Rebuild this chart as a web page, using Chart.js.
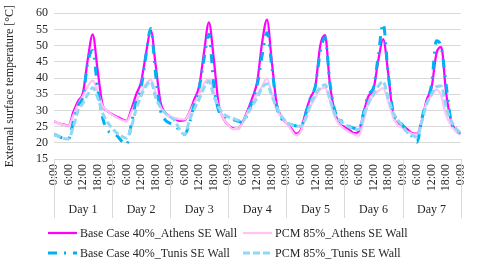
<!DOCTYPE html>
<html>
  <head>
    <title>External surface temperature - SE wall</title>
    <script src="https://cdn.jsdelivr.net/npm/chart.js@4.4.1/dist/chart.umd.min.js"></script>
    <style>
      html, body { margin: 0; padding: 0; background: #fff; }
      #wrap { width: 480px; height: 269px; }
    </style>
  </head>
  <body>
    <div id="wrap"><canvas id="tempChart"></canvas></div>

    <script>
      // eje x: horas (cada 2 h), etiquetas cada 6 h, días
      const hours = Array.from({ length: 85 }, (_, i) => i * 2);
      const hourLabels = ["0:00", "6:00", "12:00", "18:00"];
      const days = ["Day 1", "Day 2", "Day 3", "Day 4", "Day 5", "Day 6", "Day 7"];

      // series (°C)
      const baseAthens = [
        26.6, 26.0, 25.6, 25.4, 29.5, 33.0, 35.5, 46.0, 53.5, 42.5, 32.0, 29.8,
        28.8, 28.0, 27.3, 26.8, 30.5, 35.0, 38.8, 47.5, 54.7, 44.0, 32.5, 29.3,
        28.0, 27.3, 26.8, 27.0, 29.5, 33.5, 37.5, 48.0, 57.2, 46.0, 32.0, 27.5,
        25.5, 24.5, 24.3, 26.5, 30.0, 34.0, 39.0, 51.0, 58.0, 45.0, 32.0, 28.0,
        26.2, 24.5, 22.8, 24.0, 29.5, 34.0, 37.5, 50.0, 53.2, 38.0, 29.5, 25.8,
        25.0, 24.0, 23.0, 23.5, 29.5, 34.5, 36.5, 45.5, 52.0, 42.0, 29.0, 26.0,
        25.3, 24.2, 23.0, 22.8, 27.0, 33.3, 37.0, 47.5, 49.5, 35.5, 27.0, 23.8,
        22.6
      ];
      const pcmAthens = [
        26.7, 26.0, 25.5, 25.4, 28.5, 32.0, 34.5, 37.5, 39.2, 36.0, 31.5, 29.8,
        28.7, 27.8, 27.0, 26.6, 29.5, 32.8, 35.5, 38.2, 39.4, 35.5, 31.0, 29.0,
        28.0, 27.6, 27.3, 27.2, 29.3, 32.3, 35.0, 38.3, 39.8, 36.0, 31.0, 27.5,
        25.5, 24.2, 24.3, 26.3, 29.5, 32.5, 35.0, 37.5, 39.9, 35.0, 30.2, 28.0,
        26.2, 24.0, 22.3, 23.5, 28.0, 31.3, 34.0, 36.5, 37.0, 33.0, 28.0, 25.5,
        24.3, 23.3, 22.6, 22.2, 27.0, 32.5, 34.5, 36.0, 36.9, 33.0, 28.2, 25.5,
        24.6, 23.5, 22.8, 22.6, 27.0, 32.5, 34.5, 36.4, 34.5, 28.5, 25.5, 23.5,
        22.5
      ];
      const baseTunis = [
        22.6, 22.0, 21.3, 21.2, 26.5, 31.5, 34.3, 45.0, 48.5, 37.0, 28.0, 24.0,
        23.0, 22.2, 20.5, 19.5, 26.0, 33.0, 37.0, 47.0, 55.3, 41.0, 30.0, 27.0,
        26.0, 25.2, 23.8, 22.6, 26.2, 32.0, 37.0, 46.0, 53.5, 38.0, 30.0, 28.3,
        27.7, 27.2, 26.7, 26.3, 29.0, 33.0, 38.0, 47.0, 54.0, 43.5, 31.5, 27.5,
        26.2, 25.6, 25.2, 25.1, 29.0, 34.0, 37.5, 48.0, 52.5, 38.5, 30.0, 27.5,
        25.8, 25.0, 24.5, 24.2, 29.5, 35.0, 37.0, 47.0, 56.8, 42.0, 30.0, 27.0,
        25.5, 23.0, 22.0, 20.2, 27.5, 33.0, 38.0, 51.5, 49.5, 38.0, 27.0, 24.0,
        23.0
      ];
      const pcmTunis = [
        22.6, 22.0, 21.3, 21.2, 25.0, 30.0, 32.3, 35.0, 37.0, 34.0, 29.3, 26.5,
        24.5, 23.0, 22.0, 21.4, 25.0, 30.5, 34.5, 37.5, 38.9, 34.0, 31.0, 29.2,
        28.0, 26.8, 24.0, 22.5, 27.0, 30.5, 33.5, 37.0, 39.0, 34.5, 31.0, 29.0,
        28.0, 27.5, 27.0, 26.7, 29.0, 31.5, 34.0, 37.0, 38.2, 34.5, 31.0, 28.2,
        26.5, 25.5, 25.1, 25.2, 27.5, 32.0, 35.0, 37.0, 37.9, 33.5, 29.0, 27.0,
        25.8, 24.8, 24.3, 24.1, 28.5, 32.3, 35.0, 37.5, 38.9, 34.0, 29.5, 27.2,
        25.2, 23.2, 22.3, 21.8, 26.5, 32.0, 35.0, 37.3, 37.5, 31.0, 27.0, 24.5,
        23.0
      ];

      const toPoints = (arr) => arr.map((v, i) => ({ x: hours[i], y: v }));

      const FONT = '"Times New Roman", "Liberation Serif", "DejaVu Serif", serif';
      const TEXT = "#262626";

      // líneas verticales entre días, bajo el eje
      const daySeparators = {
        id: "daySeparators",
        afterDraw(chart) {
          const { ctx, chartArea, scales } = chart;
          ctx.save();
          ctx.strokeStyle = "#d9d9d9";
          ctx.lineWidth = 1;
          for (let h = 0; h <= 168; h += 24) {
            const x = Math.round(scales.x.getPixelForValue(h)) + 0.5;
            ctx.beginPath();
            ctx.moveTo(x, chartArea.bottom);
            ctx.lineTo(x, scales.days.bottom);
            ctx.stroke();
          }
          ctx.restore();
        }
      };

      // leyenda en dos columnas como en Excel
      const gridLegend = {
        id: "gridLegend",
        afterDraw(chart) {
          const ctx = chart.ctx;
          const cols = [48, 243];
          const rows = [233, 253];
          chart.data.datasets.forEach((ds, i) => {
            const x = cols[i % 2];
            const y = rows[Math.floor(i / 2)];
            ctx.save();
            ctx.strokeStyle = ds.borderColor;
            ctx.lineWidth = ds.borderWidth;
            ctx.setLineDash(ds.borderDash || []);
            ctx.beginPath();
            ctx.moveTo(x, y);
            ctx.lineTo(x + 29, y);
            ctx.stroke();
            ctx.setLineDash([]);
            ctx.fillStyle = TEXT;
            ctx.font = "12px " + FONT;
            ctx.textBaseline = "middle";
            ctx.fillText(ds.label, x + 32, y + 1);
            ctx.restore();
          });
        }
      };

      const serif = { family: FONT, size: 12 };

      const chart = new Chart(document.getElementById("tempChart"), {
        type: "line",
        data: {
          datasets: [
            { label: "Base Case 40%_Athens SE Wall", data: toPoints(baseAthens), borderColor: "#ff00ff", borderWidth: 2.25, order: 4 },
            { label: "PCM 85%_Athens SE Wall", data: toPoints(pcmAthens), borderColor: "#ffc4f4", borderWidth: 2.25, order: 3 },
            { label: "Base Case 40%_Tunis SE Wall", data: toPoints(baseTunis), borderColor: "#00b0f0", borderWidth: 3, borderDash: [9, 7, 2, 7], order: 2 },
            { label: "PCM 85%_Tunis SE Wall", data: toPoints(pcmTunis), borderColor: "#8fd8f6", borderWidth: 3, borderDash: [7, 3], order: 1 }
          ]
        },
        options: {
          responsive: true,
          maintainAspectRatio: false,
          animation: false,
          layout: { padding: { top: 7, right: 13, bottom: 51, left: 2 } },
          elements: {
            point: { radius: 0 },
            line: { cubicInterpolationMode: "monotone", fill: false }
          },
          plugins: {
            legend: { display: false },
            tooltip: { enabled: false }
          },
          scales: {
            x: {
              type: "linear",
              min: 0,
              max: 168,
              grid: { display: false, drawTicks: false },
              border: { display: true, color: "#d9d9d9" },
              afterFit: (s) => { s.height = 39; },
              ticks: {
                stepSize: 6,
                autoSkip: false,
                minRotation: 90,
                maxRotation: 90,
                padding: 5,
                color: TEXT,
                font: serif,
                callback: (v) => hourLabels[(v % 24) / 6]
              }
            },
            days: {
              type: "category",
              position: "bottom",
              labels: days,
              offset: true,
              grid: { display: false, drawTicks: false },
              border: { display: false },
              afterFit: (s) => { s.height = 20; },
              ticks: { color: TEXT, font: serif, padding: 5 }
            },
            y: {
              min: 15,
              max: 60,
              grid: { color: "#d9d9d9", drawTicks: false },
              border: { display: false },
              afterFit: (s) => { s.width = 52; },
              ticks: { stepSize: 5, autoSkip: false, color: TEXT, font: serif, padding: 6 },
              title: {
                display: true,
                text: "External surface temperature [°C]",
                color: TEXT,
                font: serif,
                padding: { top: 1, bottom: 2 }
              }
            }
          }
        },
        plugins: [daySeparators, gridLegend]
      });
    </script>
  </body>
</html>
